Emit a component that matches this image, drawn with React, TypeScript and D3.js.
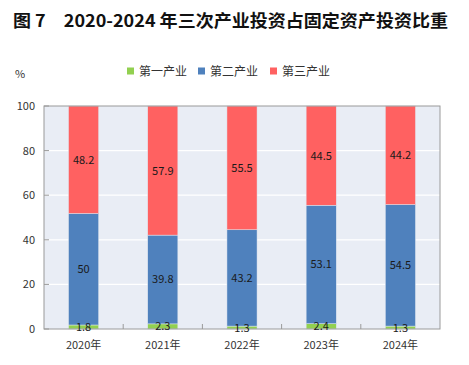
import React from 'react';
import * as d3 from 'd3';

const years = ['2020年', '2021年', '2022年', '2023年', '2024年'];
const seriesNames = ['第一产业', '第二产业', '第三产业'];
const primary = [1.8, 2.3, 1.3, 2.4, 1.3];
const secondary = [50, 39.8, 43.2, 53.1, 54.5];
const tertiary = [48.2, 57.9, 55.5, 44.5, 44.2];
const yTicks = [0, 20, 40, 60, 80, 100];
const colors = ['#92D050', '#4F81BD', '#FF6161'];

const W = 469;
const H = 365;
const plot = { left: 44, right: 440, top: 106, bottom: 329 };
const font = '"Noto Sans CJK SC", "DejaVu Sans", sans-serif';

export default function App() {
    const rows = years.map((y, i) => ({ year: y, s0: primary[i], s1: secondary[i], s2: tertiary[i] }));
    const stack = d3.stack<any>().keys(['s0', 's1', 's2'])(rows);

    const x = d3.scaleBand<string>().domain(years).range([plot.left, plot.right]).paddingInner(0.62).paddingOuter(0.31);
    const y = d3.scaleLinear().domain([0, 100]).range([plot.bottom, plot.top]);
    const step = x.step();

    return (
        <svg width={W} height={H} style={{ position: 'absolute', left: 0, top: 0, background: '#fff' }}>
            <text x={13} y={27} fontSize={17} fontWeight="bold" fontFamily={font} fill="#111" textLength={435} lengthAdjust="spacingAndGlyphs">
                图 7　2020-2024 年三次产业投资占固定资产投资比重
            </text>
            <text x={15} y={78} fontSize={11} fontFamily={font} fill="#333">%</text>

            {/* legend */}
            {seriesNames.map((name, i) => {
                const lx = [127, 198, 270][i];
                return (
                    <g key={name}>
                        <rect x={lx} y={67.5} width={7} height={7} fill={colors[i]} />
                        <text x={lx + 12} y={75.5} fontSize={12} fontFamily={font} fill="#333">{name}</text>
                    </g>
                );
            })}

            {/* plot area */}
            <rect x={plot.left} y={plot.top} width={plot.right - plot.left} height={plot.bottom - plot.top} fill="#E9EDF5" />
            {yTicks.filter(t => t > 0 && t < 100).map(t => (
                <line key={t} x1={plot.left} x2={plot.right} y1={y(t)} y2={y(t)} stroke="#fff" strokeWidth={1.2} />
            ))}

            {stack.map((layer, si) => (
                <g key={si}>
                    {layer.map((d, i) => (
                        <rect key={i} x={x(years[i])!} y={y(d[1])} width={x.bandwidth()} height={y(d[0]) - y(d[1])}
                            fill={colors[si]} stroke="#dfe6f0" strokeWidth={0.5} />
                    ))}
                </g>
            ))}

            {/* frame */}
            <rect x={plot.left} y={plot.top} width={plot.right - plot.left} height={plot.bottom - plot.top} fill="none" stroke="#9a9a9a" strokeWidth={1} />
            {yTicks.map(t => (
                <g key={t}>
                    <line x1={plot.left} x2={plot.left + 5} y1={y(t)} y2={y(t)} stroke="#9a9a9a" />
                    <text x={35} y={y(t) + 4} textAnchor="end" fontSize={11} fontFamily={font} fill="#333">{t}</text>
                </g>
            ))}
            {years.slice(1).map((yr, i) => (
                <line key={yr} x1={plot.left + step * (i + 1)} x2={plot.left + step * (i + 1)} y1={plot.bottom} y2={plot.bottom - 5} stroke="#9a9a9a" />
            ))}
            {years.map(yr => (
                <text key={yr} x={x(yr)! + x.bandwidth() / 2} y={349} textAnchor="middle" fontSize={11} fontFamily={font} fill="#333">{yr}</text>
            ))}

            {/* value labels */}
            {stack.map((layer, si) => layer.map((d, i) => (
                <text key={`${si}-${i}`} x={x(years[i])! + x.bandwidth() / 2} y={y((d[0] + d[1]) / 2) + 4}
                    textAnchor="middle" fontSize={11} fontFamily={font} fill="#1a1a1a">
                    {[primary, secondary, tertiary][si][i]}
                </text>
            )))}
        </svg>
    );
}
